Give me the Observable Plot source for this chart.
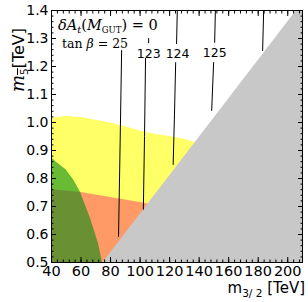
<!DOCTYPE html>
<html><head><meta charset="utf-8">
<script src="https://cdn.jsdelivr.net/npm/d3@7"></script>
<script src="https://cdn.jsdelivr.net/npm/@observablehq/plot@0.6"></script>
<style>body{margin:0;background:#fff}</style>
</head><body><div id="chart"></div>
<script>
const xMajor = [40, 60, 80, 100, 120, 140, 160, 180, 200];
const xMinor = d3.range(40, 211, 4);
const yMajor = [0.5, 0.6, 0.7, 0.8, 0.9, 1.0, 1.1, 1.2, 1.3, 1.4];
const yMinor = d3.range(0.5, 1.401, 0.02);

// yellow region upper boundary
const yellowX = [40, 50, 60, 70, 80, 90, 100, 110, 120, 130, 137.5];
const yellowY = [1.015, 1.021, 1.018, 1.008, 0.998, 0.985, 0.97, 0.958, 0.95, 0.94, 0.928];
// orange region upper boundary
const orangeX = [40, 60, 80, 100, 106];
const orangeY = [0.76, 0.75, 0.732, 0.714, 0.708];
// green region right boundary (as function of y)
const greenY = [0.875, 0.861, 0.83, 0.795, 0.75, 0.657, 0.564, 0.5];
const greenX = [40, 42.7, 50, 55, 59.7, 66.4, 72, 74.5];
// excluded (grey) region boundary
const greyX = [75, 206];
const greyY = [0.5, 1.4];

// contour segments
const contours = [
  {id: "122a", x: [87.5, 86.5, 85.4], y: [1.257, 0.93, 0.593]},
  {id: "123t", x: [105.8, 105.8], y: [1.3, 1.285]},
  {id: "123b", x: [103.7, 103.0, 102.2], y: [1.229, 0.95, 0.69]},
  {id: "124t", x: [125.2, 124.7], y: [1.4, 1.282]},
  {id: "124b", x: [124.1, 123.3, 122.4], y: [1.214, 1.03, 0.85]},
  {id: "125t", x: [151, 150.5], y: [1.4, 1.286]},
  {id: "125b", x: [149.8, 148.5], y: [1.214, 1.043]},
  {id: "126", x: [183.7, 183], y: [1.4, 1.257]}
];
const labelText = ["123", "124", "125"];
const labelX = [105.8, 125.4, 150.5];
const labelY = [1.246, 1.246, 1.25];

const yellowData = yellowX.map((x, i) => ({x, y: yellowY[i]}));
const orangeData = orangeX.map((x, i) => ({x, y: orangeY[i]}));
const greenData = greenY.map((y, i) => ({y, x: greenX[i]}));
const greyData = [
  {x: greyX[0], y1: greyY[0], y2: greyY[0]},
  {x: greyX[1], y1: greyY[0], y2: greyY[1]},
  {x: 210, y1: greyY[0], y2: greyY[1]}
];
const contourData = contours.flatMap(c => c.x.map((x, i) => ({id: c.id, x, y: c.y[i]})));
const labels = labelText.map((t, i) => ({t, x: labelX[i], y: labelY[i]}));

const plot = Plot.plot({
  width: 308, height: 302,
  marginLeft: 51, marginRight: 6, marginTop: 10, marginBottom: 40,
  x: {domain: [40, 210]},
  y: {domain: [0.5, 1.4]},
  style: {fontFamily: "DejaVu Sans", fontSize: "14.5px", background: "white", color: "black"},
  marks: [
    Plot.areaY(yellowData, {x: "x", y1: 0.5, y2: "y", fill: "rgb(255,255,102)"}),
    Plot.areaY(orangeData, {x: "x", y1: 0.5, y2: "y", fill: "rgb(255,153,102)"}),
    Plot.areaX(greenData, {y: "y", x1: 40, x2: "x", fill: "rgb(0,140,16)", fillOpacity: 0.59}),
    Plot.areaY(greyData, {x: "x", y1: "y1", y2: "y2", fill: "rgb(200,200,200)"}),
    Plot.line(contourData, {x: "x", y: "y", z: "id", stroke: "black", strokeWidth: 1}),
    Plot.text(labels, {x: "x", y: "y", text: "t", fontSize: 12.5, fill: "black"}),
    Plot.axisX({anchor: "bottom", ticks: xMajor, tickSize: 0, tickPadding: 3, label: null, tickFormat: d => String(d)}),
    Plot.axisX(xMajor, {anchor: "bottom", tickSize: -5, text: null, label: null}),
    Plot.axisX(xMinor, {anchor: "bottom", tickSize: -2.5, text: null, label: null}),
    Plot.axisX(xMajor, {anchor: "top", tickSize: -5, text: null, label: null}),
    Plot.axisX(xMinor, {anchor: "top", tickSize: -2.5, text: null, label: null}),
    Plot.axisY({anchor: "left", ticks: yMajor, tickSize: 0, tickPadding: 3, label: null, fontSize: 14, tickFormat: d3.format(".1f")}),
    Plot.axisY(yMajor, {anchor: "left", tickSize: -5, text: null, label: null}),
    Plot.axisY(yMinor, {anchor: "left", tickSize: -2.5, text: null, label: null}),
    Plot.axisY(yMajor, {anchor: "right", tickSize: -5, text: null, label: null}),
    Plot.axisY(yMinor, {anchor: "right", tickSize: -2.5, text: null, label: null}),
    Plot.frame({stroke: "black", strokeWidth: 1})
  ]
});
document.getElementById("chart").appendChild(plot);

const svg = d3.select(plot);

// annotation texts
const ann1 = svg.append("text").attr("x", 58).attr("y", 30).attr("text-anchor", "start")
  .attr("font-family", "DejaVu Serif").attr("font-size", 14.5).attr("fill", "black");
ann1.append("tspan").attr("font-style", "italic").text("δA");
ann1.append("tspan").attr("font-style", "italic").attr("font-size", 10).attr("dy", 3).text("t");
ann1.append("tspan").attr("dy", -3).text("(");
ann1.append("tspan").attr("font-style", "italic").text("M");
ann1.append("tspan").attr("font-size", 8.5).attr("dy", 3).text("GUT");
ann1.append("tspan").attr("dy", -3).text(") = 0");

const ann2 = svg.append("text").attr("x", 62).attr("y", 48).attr("text-anchor", "start")
  .attr("font-family", "DejaVu Serif").attr("font-size", 12.5).attr("fill", "black");
ann2.append("tspan").text("tan ");
ann2.append("tspan").attr("font-style", "italic").text("β");
ann2.append("tspan").text(" = 25");

// y label
const yl = svg.append("text").attr("transform", "translate(24,60) rotate(-90)")
  .attr("text-anchor", "middle").attr("font-family", "DejaVu Sans").attr("font-size", 16).attr("fill", "black");
yl.append("tspan").attr("font-family", "DejaVu Serif").attr("font-style", "italic").attr("font-size", 18).text("m");
yl.append("tspan").attr("font-size", 10.5).attr("dy", 4).attr("text-decoration", "overline").text("5");
yl.append("tspan").attr("dy", -4).text("[TeV]");

// x label
const xl = svg.append("text").attr("x", 305).attr("y", 293)
  .attr("text-anchor", "end").attr("font-family", "DejaVu Sans").attr("font-size", 15).attr("fill", "black");
xl.append("tspan").text("m");
xl.append("tspan").attr("font-size", 10.5).attr("dy", 4).text("3/ 2");
xl.append("tspan").attr("dy", -4).text(" [TeV]");
</script>
</body></html>
